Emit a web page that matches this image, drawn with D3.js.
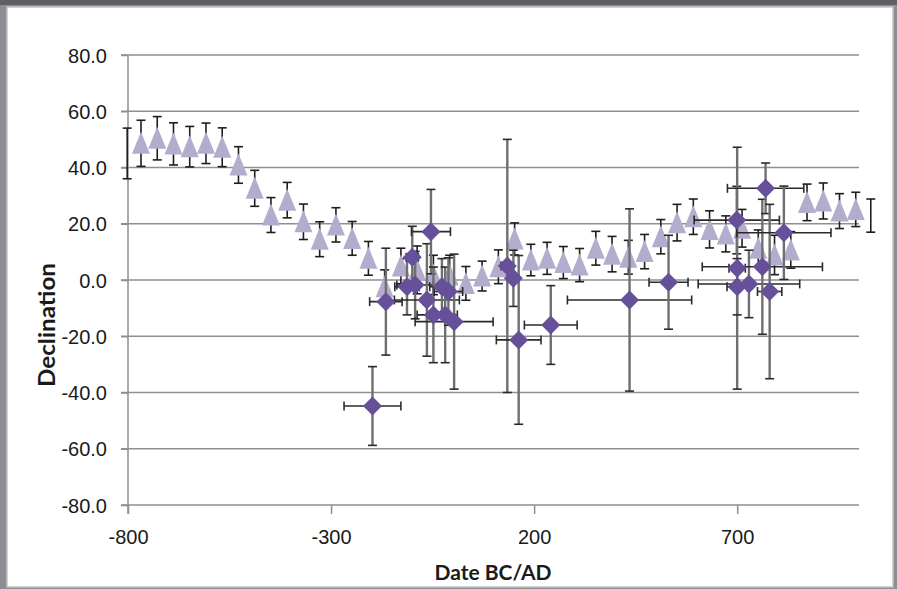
<!DOCTYPE html>
<meta charset="utf-8">
<style>
body { margin: 0; background: #8e8d93; }
svg { display: block; font-family: Lato, 'Open Sans', sans-serif; }
.tick text { fill: #1a1a1a; font-size: 20px; }
.grid line { stroke: #8f8f8f; stroke-width: 1.5px; }
</style>
<body>
<script src="https://d3js.org/d3.v7.min.js"></script>
<script>

// triangle series: date, declination, +/- error
var triDate = [-802, -768, -728, -688, -648, -608, -568, -528, -488, -448, -408, -368, -328, -288, -248,
  -208, -168, -128, -88, -48, -8, 32, 72, 112, 152, 192, 232, 272, 312, 352,
  392, 432, 472, 512, 552, 592, 632, 672, 712, 752, 792, 832, 872, 912, 952, 992, 1029];
var triDecl = [45.0, 48.6, 50.4, 48.4, 47.4, 48.6, 47.2, 40.9, 32.6, 23.1, 28.4, 20.7, 14.5, 19.6, 14.8,
  7.7, -2.4, 5.0, 3.6, 1.8, 1.8, -1.2, 1.4, 4.7, 14.6, 7.1, 7.7, 6.2, 5.3, 11.3,
  9.2, 8.1, 10.1, 15.4, 20.4, 22.5, 18.0, 16.4, 18.4, 11.3, 8.9, 10.7, 27.6, 28.1, 24.5, 25.1, 22.9];
var triErr = [9.0, 8.2, 7.7, 7.5, 7.2, 7.2, 6.9, 6.5, 6.4, 6.2, 6.3, 6.3, 6.2, 6.1, 6.0,
  6.0, 6.0, 6.3, 8.5, 7.0, 7.0, 6.0, 5.3, 6.0, 5.7, 5.6, 5.7, 5.7, 5.9, 6.0,
  6.3, 6.0, 6.1, 6.1, 6.5, 6.3, 6.6, 6.4, 6.7, 6.5, 7.0, 6.5, 6.5, 6.4, 6.2, 6.1, 5.9];

// diamond series: date, declination, date error, declination error
var dmdDate = [-198, -165, -113, -100, -93, -64, -54, -48, -27, -19, -11, 3,
  134, 149, 162, 241, 435, 531, 699, 700, 700, 729, 762, 770, 780, 815];
var dmdDecl = [-44.8, -7.7, -2.4, 8.1, -1.8, -7.1, 17.2, -12.4, -2.4, -12.4, -4.1, -14.8,
  5.0, 0.6, -21.3, -16.0, -7.1, -0.8, 21.3, 4.2, -2.4, -1.4, 4.7, 32.6, -4.1, 16.8];
var dmdDateErr = [70, 40, 30, 15, 45, 80, 48, 40, 30, 30, 35, 96,
  15, 10, 55, 65, 153, 48, 105, 20, 25, 125, 148, 94, 30, 116];
var dmdDeclErr = [14, 19, 10, 11, 12, 20, 15, 17, 10, 17, 12, 24,
  45, 10, 30, 14, 32.4, 16.7, 12, 43, 10, 12, 24, 9, 31, 16.6];

var xTicks = [-800, -300, 200, 700];
var yTicks = [-80, -60, -40, -20, 0, 20, 40, 60, 80];

var W = 897, H = 589;

var svg = d3.select("body").append("svg")
    .attr("width", W)
    .attr("height", H);

// slide frame
svg.append("rect").attr("width", W).attr("height", 5).attr("fill", "#5f5f63");
svg.append("rect")
    .attr("x", 7).attr("y", 7)
    .attr("width", 886).attr("height", 580)
    .attr("fill", "white")
    .attr("stroke", "#c4c4c8")
    .attr("stroke-width", 1.5);

var x = d3.scaleLinear().domain([-800, 1000]).range([128, 859]);
var y = d3.scaleLinear().domain([-80, 80]).range([505, 55]);

// horizontal gridlines (they run through the tick marks too)
svg.append("g").attr("class", "grid")
  .selectAll("line")
  .data(yTicks)
  .enter().append("line")
    .attr("x1", 121)
    .attr("x2", x(1000))
    .attr("y1", function(d) { return y(d); })
    .attr("y2", function(d) { return y(d); });

// Y axis
var yAxis = svg.append("g")
    .attr("transform", "translate(" + x(-800) + ",0)")
    .call(d3.axisLeft(y).tickValues(yTicks).tickSize(7).tickPadding(14)
      .tickFormat(function(d) { return d.toFixed(1); }));
yAxis.select(".domain").attr("stroke", "#8f8f8f").attr("stroke-width", 1.5)
    .attr("d", "M0," + y(80) + "V" + (y(-80) + 9));
yAxis.selectAll(".tick line").attr("stroke", "#8f8f8f").attr("stroke-width", 1.5);
yAxis.selectAll(".tick text").attr("dy", "0.36em");

// X axis
var xAxis = svg.append("g")
    .attr("transform", "translate(0," + y(-80) + ")")
    .call(d3.axisBottom(x).tickValues(xTicks).tickSize(9).tickPadding(16)
      .tickFormat(function(d) { return String(d); }));
xAxis.select(".domain").remove();
xAxis.selectAll(".tick line").attr("stroke", "#8f8f8f").attr("stroke-width", 1.5);

// axis titles
svg.append("text")
    .attr("x", 493)
    .attr("y", 580)
    .attr("text-anchor", "middle")
    .style("font-size", "21px")
    .style("font-weight", "bold")
    .attr("fill", "#1a1a1a")
    .text("Date BC/AD");

svg.append("text")
    .attr("transform", "translate(55,325) rotate(-90)")
    .attr("text-anchor", "middle")
    .attr("textLength", 124)
    .attr("lengthAdjust", "spacingAndGlyphs")
    .style("font-size", "22px")
    .style("font-weight", "bold")
    .attr("fill", "#1a1a1a")
    .text("Declination");

var cap = 4.5;

// triangle error bars
var triBars = svg.append("g")
    .attr("stroke", "#1e1e1e")
    .attr("stroke-width", 1.6)
  .selectAll("g")
  .data(triDate)
  .enter().append("g");
triBars.append("line")
    .attr("x1", function(d) { return x(d); })
    .attr("x2", function(d) { return x(d); })
    .attr("y1", function(d, i) { return y(triDecl[i] + triErr[i]); })
    .attr("y2", function(d, i) { return y(triDecl[i] - triErr[i]); });
[1, -1].forEach(function(s) {
  triBars.append("line")
      .attr("x1", function(d) { return x(d) - cap; })
      .attr("x2", function(d) { return x(d) + cap; })
      .attr("y1", function(d, i) { return y(triDecl[i] + s * triErr[i]); })
      .attr("y2", function(d, i) { return y(triDecl[i] + s * triErr[i]); });
});

// triangle markers (only points inside the date range)
svg.append("g")
  .selectAll("path")
  .data(triDate)
  .enter().filter(function(d) { return d >= -800 && d <= 1000; })
  .append("path")
    .attr("d", "M0,-11.5L9,10.5L-9,10.5Z")
    .attr("fill", "#b4accd")
    .attr("transform", function(d) {
      var i = triDate.indexOf(d);
      return "translate(" + x(d) + "," + y(triDecl[i]) + ")";
    });

// diamond error bars: vertical grey, horizontal dark
var dBars = svg.append("g")
  .selectAll("g")
  .data(dmdDate)
  .enter().append("g");
dBars.append("line")
    .attr("stroke", "#2a2a2a").attr("stroke-width", 1.6)
    .attr("x1", function(d, i) { return x(d - dmdDateErr[i]); })
    .attr("x2", function(d, i) { return x(d + dmdDateErr[i]); })
    .attr("y1", function(d, i) { return y(dmdDecl[i]); })
    .attr("y2", function(d, i) { return y(dmdDecl[i]); });
[1, -1].forEach(function(s) {
  dBars.append("line")
      .attr("stroke", "#2a2a2a").attr("stroke-width", 1.6)
      .attr("x1", function(d, i) { return x(d + s * dmdDateErr[i]); })
      .attr("x2", function(d, i) { return x(d + s * dmdDateErr[i]); })
      .attr("y1", function(d, i) { return y(dmdDecl[i]) - cap; })
      .attr("y2", function(d, i) { return y(dmdDecl[i]) + cap; });
});
dBars.append("line")
    .attr("stroke", "#6f6f6f").attr("stroke-width", 2.4)
    .attr("x1", function(d) { return x(d); })
    .attr("x2", function(d) { return x(d); })
    .attr("y1", function(d, i) { return y(dmdDecl[i] + dmdDeclErr[i]); })
    .attr("y2", function(d, i) { return y(dmdDecl[i] - dmdDeclErr[i]); });
[1, -1].forEach(function(s) {
  dBars.append("line")
      .attr("stroke", "#2a2a2a").attr("stroke-width", 1.6)
      .attr("x1", function(d) { return x(d) - cap; })
      .attr("x2", function(d) { return x(d) + cap; })
      .attr("y1", function(d, i) { return y(dmdDecl[i] + s * dmdDeclErr[i]); })
      .attr("y2", function(d, i) { return y(dmdDecl[i] + s * dmdDeclErr[i]); });
});

// diamond markers
svg.append("g")
  .selectAll("path")
  .data(dmdDate)
  .enter().append("path")
    .attr("d", "M0,-9.5L9.5,0L0,9.5L-9.5,0Z")
    .attr("fill", "#67509a")
    .attr("transform", function(d, i) {
      return "translate(" + x(d) + "," + y(dmdDecl[i]) + ")";
    });

</script>
</body>
